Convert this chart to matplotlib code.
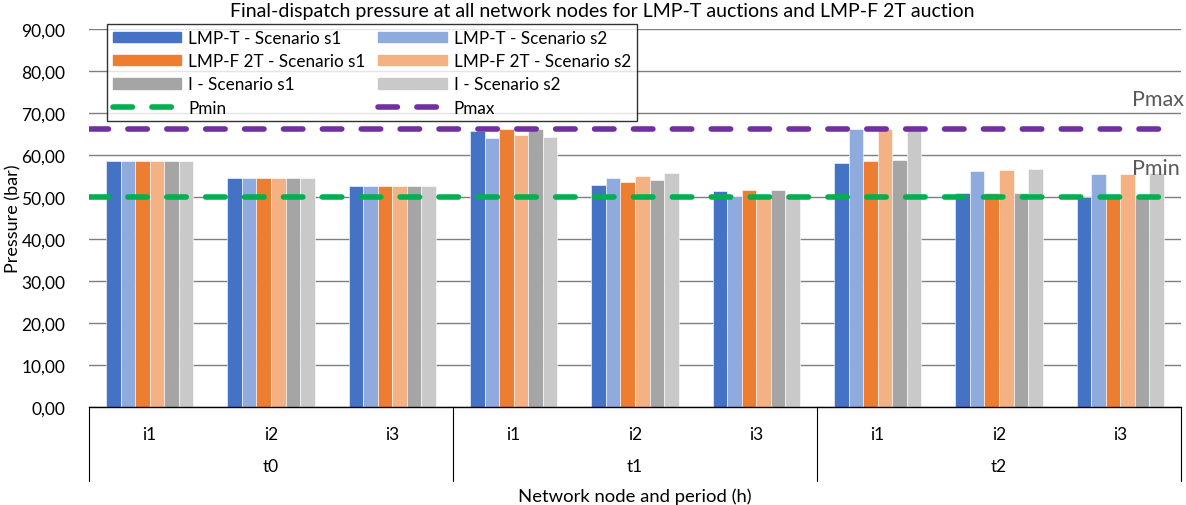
import matplotlib.pyplot as plt
from matplotlib.ticker import FuncFormatter
from matplotlib.lines import Line2D
from matplotlib.patches import Patch
import numpy as np

plt.rcParams['font.family'] = ['Lato', 'DejaVu Sans']

nodes = ["i1", "i2", "i3"] * 3
periods = ["t0", "t1", "t2"]

series_names = ["LMP-T - Scenario s1", "LMP-T - Scenario s2",
                "LMP-F 2T - Scenario s1", "LMP-F 2T - Scenario s2",
                "I - Scenario s1", "I - Scenario s2"]
lmpt_s1 = [58.5, 54.6, 52.6, 65.7, 52.9, 51.4, 58.1, 50.9, 50.0]
lmpt_s2 = [58.5, 54.6, 52.6, 64.1, 54.5, 50.2, 66.2, 56.2, 55.5]
lmpf_s1 = [58.5, 54.6, 52.6, 66.2, 53.6, 51.7, 58.6, 50.9, 50.0]
lmpf_s2 = [58.5, 54.6, 52.6, 64.8, 55.0, 50.2, 66.2, 56.4, 55.5]
i_s1 = [58.5, 54.6, 52.6, 66.2, 54.0, 51.7, 58.8, 50.9, 50.0]
i_s2 = [58.5, 54.6, 52.6, 64.4, 55.7, 50.0, 66.2, 56.6, 55.6]
pmin = 50.0
pmax = 66.2

colors = ['#4472C4', '#8FAADC', '#ED7D31', '#F4B183', '#A5A5A5', '#C9C9C9']
series = [lmpt_s1, lmpt_s2, lmpf_s1, lmpf_s2, i_s1, i_s2]

fig = plt.figure(figsize=(11.86, 5.06), dpi=100)
ax = fig.add_axes([89 / 1186, (506 - 408) / 506, 1092 / 1186, 378 / 506])

x = np.arange(len(nodes))
w = 0.12
for k, (vals, c) in enumerate(zip(series, colors)):
    ax.bar(x + (k - 2.5) * w, vals, width=w, color=c, edgecolor='white',
           linewidth=0.4, zorder=2)

dash = (0, (3.5, 3.5))
ax.axhline(pmin, xmin=0, xmax=0.99, color='#00B050', lw=4, ls=dash,
           dash_capstyle='round', zorder=3)
ax.axhline(pmax, xmin=0, xmax=0.99, color='#7030A0', lw=4, ls=dash,
           dash_capstyle='round', zorder=3)
ax.text(0.955, 73.3, "Pmax", transform=ax.get_yaxis_transform(), fontsize=15.5,
        color='#595959', va='center', ha='left', clip_on=False)
ax.text(0.955, 56.9, "Pmin", transform=ax.get_yaxis_transform(), fontsize=15.5,
        color='#595959', va='center', ha='left', clip_on=False)

ax.set_xlim(-0.5, len(nodes) - 0.5)
ax.set_ylim(0, 90)
ax.set_yticks(np.arange(0, 91, 10))
ax.yaxis.set_major_formatter(FuncFormatter(lambda v, p: f"{v:.2f}".replace('.', ',')))
ax.tick_params(axis='y', length=0, labelsize=12.5, pad=17)
ax.set_xticks([])
ax.grid(axis='y', color='#7F7F7F', lw=1, zorder=0)
ax.set_axisbelow(True)
for s in ["left", "right", "top"]:
    ax.spines[s].set_visible(False)
ax.spines["bottom"].set_color('black')
ax.spines["bottom"].set_linewidth(1)

# multi-level category axis
tr = ax.get_xaxis_transform()
for xb in [-0.5, 2.5, 5.5, 8.5]:
    ax.plot([xb, xb], [0, -0.196], transform=tr, color='black', lw=0.8, clip_on=False)
for xi, lab in zip(x, nodes):
    ax.text(xi, -0.071, lab, transform=tr, ha='center', va='center', fontsize=12.5)
for j, lab in enumerate(periods):
    ax.text(3 * j + 1, -0.156, lab, transform=tr, ha='center', va='center', fontsize=12.5)
ax.text(0.5, -0.235, "Network node and period (h)", transform=ax.transAxes,
        ha='center', va='center', fontsize=13.3)
fig.text(13 / 1186, (506 - 219) / 506, "Pressure (bar)", rotation=90,
         ha='center', va='center', fontsize=13)
fig.text(602 / 1186, (506 - 12) / 506, "Final-dispatch pressure at all network nodes for LMP-T auctions and LMP-F 2T auction",
         ha='center', va='center', fontsize=14)

h = [Patch(color=c) for c in colors]
pmin_h = Line2D([], [], color='#00B050', lw=4, ls=dash, dash_capstyle='round')
pmax_h = Line2D([], [], color='#7030A0', lw=4, ls=dash, dash_capstyle='round')
handles = [h[0], h[2], h[4], pmin_h, h[1], h[3], h[5], pmax_h]
labels = [series_names[0], series_names[2], series_names[4], "Pmin",
          series_names[1], series_names[3], series_names[5], "Pmax"]
leg = ax.legend(handles, labels, ncol=2, loc='upper left',
                bbox_to_anchor=((107 - 89) / 1092, (408 - 25) / 378),
                frameon=True, fancybox=False, edgecolor='black', fontsize=12.3,
                handlelength=4.0, handleheight=0.58, labelspacing=0.42,
                borderpad=0.35, columnspacing=0.75, handletextpad=0.4,
                borderaxespad=0)
leg.get_frame().set_linewidth(1)
leg.set_zorder(5)

fig.savefig("out.png", dpi=100)
